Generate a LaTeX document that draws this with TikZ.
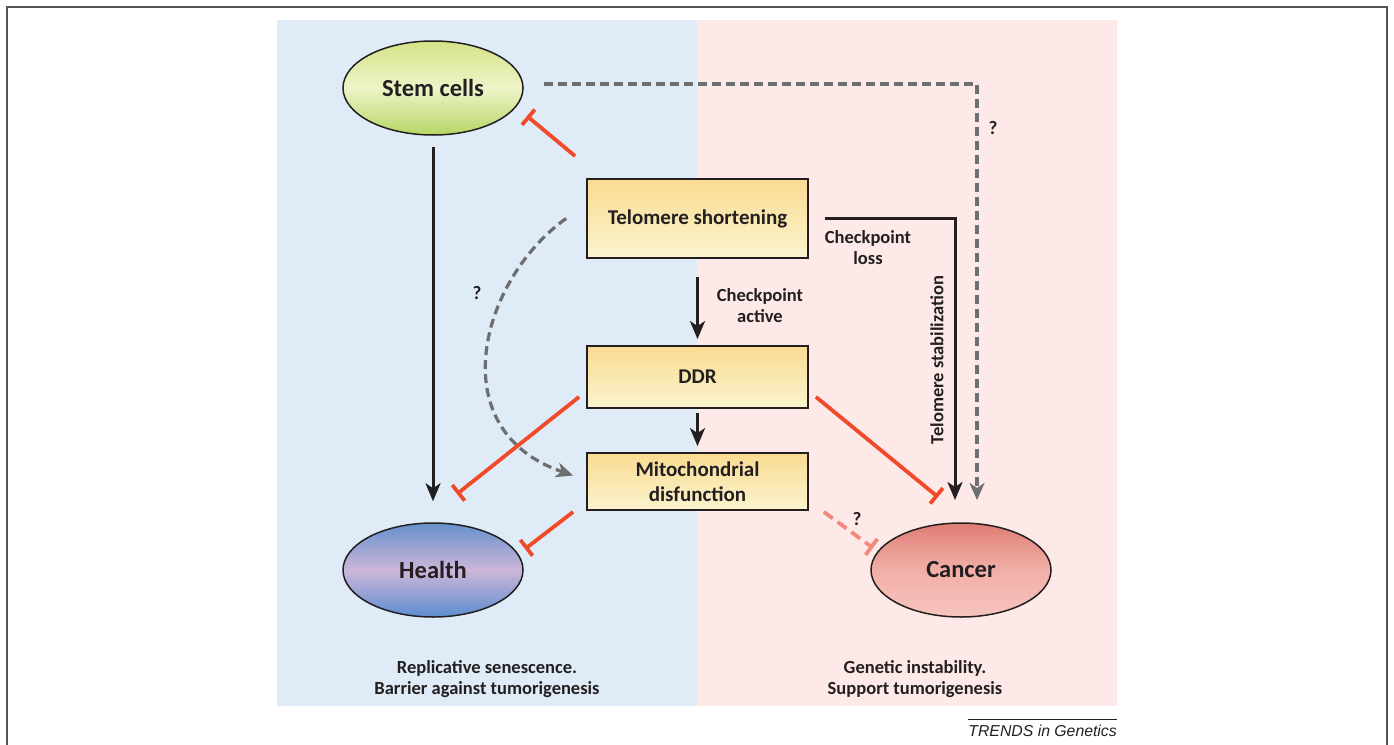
\documentclass[tikz,border=0pt]{standalone}
\usepackage{fontspec}
\setmainfont{Carlito}
\newfontfamily\helv{Liberation Sans}
\usetikzlibrary{arrows.meta,shapes.geometric}
\definecolor{bluebg}{HTML}{DFEBF7}
\definecolor{pinkbg}{HTML}{FDEAE8}
\definecolor{inh}{HTML}{F04A28}
\definecolor{inhlight}{HTML}{F28A7C}
\definecolor{dgray}{HTML}{6D6E70}
\definecolor{txt}{HTML}{231F20}
\definecolor{frame}{HTML}{555555}
\definecolor{boxtop}{HTML}{FADB92}
\definecolor{boxbot}{HTML}{FAF4CE}
\definecolor{stemtop}{HTML}{D5E287}
\definecolor{stemmid}{HTML}{EEF4C8}
\definecolor{stembot}{HTML}{B6D565}
\definecolor{healthtop}{HTML}{6590CC}
\definecolor{healthmid}{HTML}{CDB6D9}
\definecolor{healthbot}{HTML}{5C8DD0}
\definecolor{cancertop}{HTML}{DE7D74}
\definecolor{cancermid}{HTML}{F1AFA7}
\definecolor{cancerbot}{HTML}{F6C4BE}
\tikzset{
  ell/.style={ellipse, draw=txt, line width=1.5pt, minimum width=180pt, minimum height=94pt,
    inner sep=0pt, font=\bfseries\fontsize{24.5}{28}\selectfont, text=txt},
  stepbox/.style={rectangle, draw=txt, line width=1.8pt, top color=boxtop, bottom color=boxbot,
    minimum width=221pt, inner sep=0pt, align=center, text=txt,
    font=\bfseries\fontsize{21}{24.5}\selectfont},
  arr/.style={line width=3pt, draw=txt, -{Stealth[length=18pt,width=15pt,inset=5pt]}},
  inhib/.style={line width=3.8pt, draw=inh, -{Bar[width=20pt,line width=3.8pt]}},
  qarr/.style={line width=3.2pt, draw=dgray, dash pattern=on 9pt off 5pt,
    -{Stealth[length=17pt,width=15pt,inset=5pt]}},
  qinhib/.style={line width=3.8pt, draw=inhlight, dash pattern=on 11pt off 6pt,
    -{Bar[width=20pt,line width=3.8pt]}},
  lbl/.style={font=\bfseries\fontsize{18.5}{21}\selectfont, text=txt, align=center},
  qm/.style={font=\bfseries\fontsize{19}{22}\selectfont, text=txt},
}
\begin{document}
\begin{tikzpicture}[x=1pt,y=-1pt]
\useasboundingbox (0,0) rectangle (1394,744);
% frame
\draw[frame, line width=2.2pt] (7,760) -- (7,7) -- (1387,7) -- (1387,760);
% panels
\fill[bluebg] (277,20) rectangle (697,706);
\fill[pinkbg] (697,20) rectangle (1117,706);
% credit
\draw[txt, line width=1pt] (968,719) -- (1117,719);
\node[anchor=east, inner sep=0pt, font=\helv\itshape\fontsize{15.8}{18}\selectfont, text=txt] (credit) at (1117,731) {TRENDS in Genetics};

% nodes
\node[ell, top color=stemtop, bottom color=stembot, middle color=stemmid] (stem) at (433,88) {Stem cells};
\node[ell, top color=healthtop, bottom color=healthbot, middle color=healthmid] (health) at (433,570) {Health};
\node[ell, top color=cancertop, bottom color=cancerbot, middle color=cancermid] (cancer) at (961,570) {Cancer};
\node[stepbox, minimum height=79pt] (telo) at (697.5,218.5) {Telomere shortening};
\node[stepbox, minimum height=62pt] (ddr) at (697.5,377) {DDR};
\node[stepbox, minimum height=57pt] (mito) at (697.5,481.5) {Mitochondrial\\disfunction};

% free ends
\coordinate (qc) at (977,500);
\coordinate (tc) at (955,500);
\coordinate (stembar) at (527,116);
\coordinate (hbar1) at (457,494);
\coordinate (cbar1) at (938,497);
\coordinate (hbar2) at (525,549);
\coordinate (cbar2) at (873,548);

% connectors
\draw[arr] ([yshift=-11pt]stem.south) -- ([yshift=21pt]health.north);
\draw[qarr] ([shift={(20pt,4pt)}]stem.east) -| (qc);
\draw[inhib] ([shift={(-11pt,22pt)}]telo.north west) -- (stembar);
\draw[arr] ([xshift=16pt]telo.east) -| (tc);
\draw[arr] ([yshift=-18pt]telo.south) -- ([yshift=6pt]ddr.north);
\draw[arr] ([yshift=-4pt]ddr.south) -- ([yshift=6pt]mito.north);
\draw[qarr] ([xshift=-20pt]telo.west) .. controls (480,280) and (440,430) .. ([shift={(-13pt,6pt)}]mito.west);
\draw[inhib] ([shift={(-7pt,12pt)}]ddr.south west) -- (hbar1);
\draw[inhib] ([shift={(7pt,12pt)}]ddr.south east) -- (cbar1);
\draw[inhib] ([shift={(-13pt,-1pt)}]mito.south west) -- (hbar2);
\draw[qinhib] ([shift={(15pt,-1pt)}]mito.south east) -- (cbar2);

% labels
\node[lbl] (lloss) at (868,248) {Checkpoint\\loss};
\node[lbl] (lactive) at (760,305.5) {Checkpoint\\active};
\node[lbl, rotate=90] (lstab) at (937,360) {Telomere stabilization};
\node[qm] (q1) at (993,128) {?};
\node[qm] (q2) at (477,293) {?};
\node[qm] (q3) at (857,519) {?};
\node[lbl] (lleft) at (487,679.5) {Replicative senescence.\\Barrier against tumorigenesis};
\node[lbl] (lright) at (915,679.5) {Genetic instability.\\Support tumorigenesis};
\end{tikzpicture}
\end{document}
